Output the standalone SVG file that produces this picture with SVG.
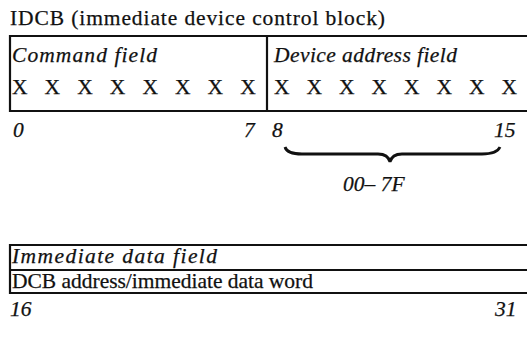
<svg xmlns="http://www.w3.org/2000/svg" width="527" height="347" viewBox="0 0 527 347">
<style>
.t{font-family:"Liberation Serif","Times New Roman",serif;font-size:21.5px;fill:#111;stroke:#111;stroke-width:0.25}
.i{font-style:italic}
.ln{stroke:#111;stroke-width:2.2;fill:none}
</style>
<rect width="527" height="347" fill="#fff"/>
<text class="t" x="10" y="25" textLength="375">IDCB (immediate device control block)</text>
<g id="command-field">
<path class="ln" d="M528,36 L10,36 L10,111 L528,111"/>
<line class="ln" x1="267" y1="36" x2="267" y2="111"/>
<text class="t i" x="12" y="62" textLength="145">Command field</text>
<text class="t" y="94"><tspan x="12">X</tspan><tspan x="44.6">X</tspan><tspan x="77.2">X</tspan><tspan x="109.8">X</tspan><tspan x="142.4">X</tspan><tspan x="175">X</tspan><tspan x="207.6">X</tspan><tspan x="240.2">X</tspan></text>
</g>
<g id="device-address-field">
<text class="t i" x="274" y="62" textLength="183">Device address field</text>
<text class="t" y="94"><tspan x="274">X</tspan><tspan x="306.5">X</tspan><tspan x="339">X</tspan><tspan x="371.5">X</tspan><tspan x="404">X</tspan><tspan x="436.5">X</tspan><tspan x="469">X</tspan><tspan x="501.5">X</tspan></text>
</g>
<text class="t i" x="13" y="137">0</text>
<text class="t i" x="244" y="137">7</text>
<text class="t i" x="272" y="137">8</text>
<text class="t i" x="494" y="137">15</text>
<g id="connectors">
<path d="M285,147 Q287,154 302,154 L378,154 Q388,154 390,162 Q392,154 402,154 L482,154 Q497,154 500,147" stroke="#111" stroke-width="2.8" fill="none"/>
</g>
<text class="t i" x="343" y="191">00– 7F</text>
<g id="immediate-data-field">
<path class="ln" d="M528,245 L10,245 L10,293 L528,293"/>
<line class="ln" x1="10" y1="270" x2="528" y2="270"/>
<text class="t i" x="12" y="263" textLength="205">Immediate data field</text>
<text class="t" x="12" y="288" textLength="301">DCB address/immediate data word</text>
</g>
<text class="t i" x="10" y="316">16</text>
<text class="t i" x="495" y="316">31</text>
</svg>
